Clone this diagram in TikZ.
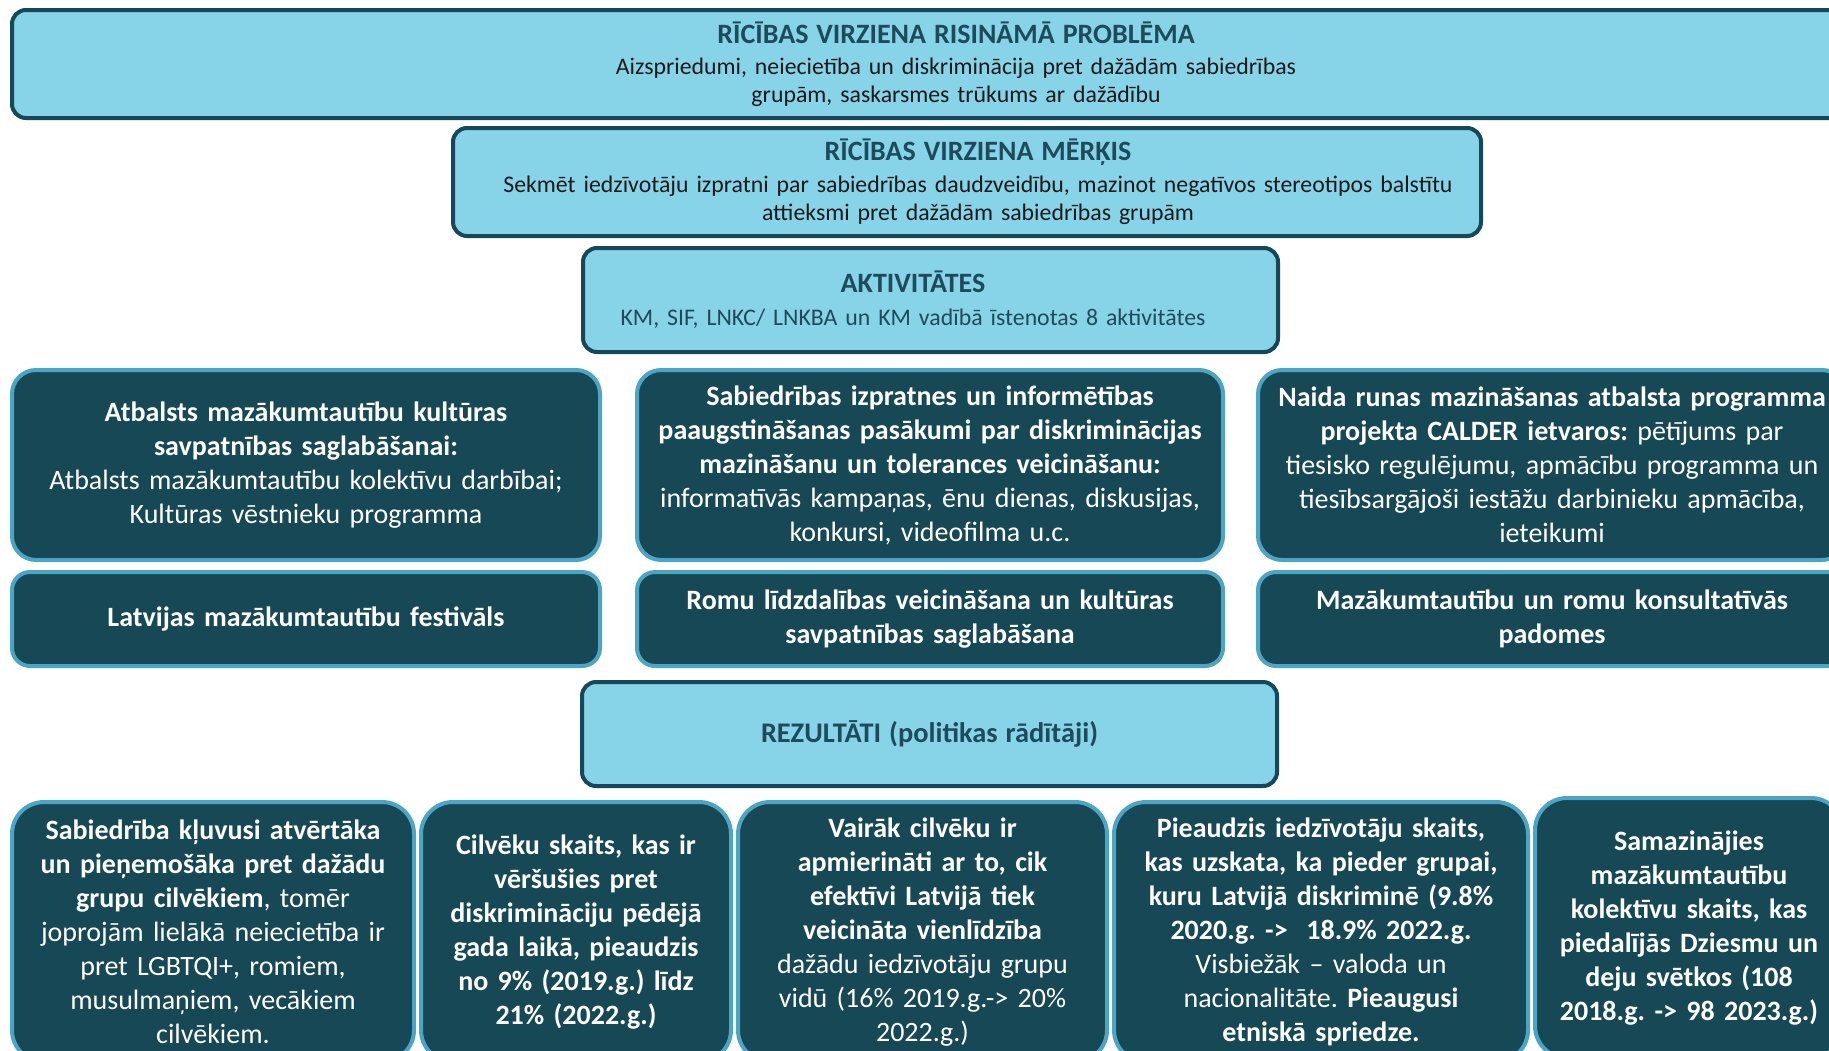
\documentclass[tikz,border=0pt]{standalone}
\usepackage{fontspec}
\setmainfont{Carlito}

\definecolor{skyfill}{HTML}{87D3E7}
\definecolor{tealline}{HTML}{17475A}
\definecolor{tealtext}{HTML}{1E4B5C}
\definecolor{bodytext}{HTML}{1A1A1A}
\definecolor{tealfill}{HTML}{174855}
\definecolor{rimblue}{HTML}{4BA6C6}

\newcommand{\headfont}{\color{tealtext}\bfseries\fontsize{14}{14}\selectfont}
\frenchspacing

\begin{document}
\begin{tikzpicture}[x=0.5pt,y=-0.5pt,
			head node/.style={rectangle,rounded corners=7pt,fill=skyfill,draw=tealline,
				line width=2pt,text=bodytext,align=center,inner sep=2pt,
				font=\fontsize{11.9}{14}\selectfont},
			act node/.style={rectangle,rounded corners=12pt,fill=tealfill,draw=rimblue,
				line width=2pt,text=white,align=center,inner sep=4pt,
				font=\fontsize{14}{17}\selectfont,minimum width=294pt,text width=284pt},
			fest node/.style={act node,rounded corners=9pt,minimum height=47pt},
			res node/.style={act node,rounded corners=16pt,minimum height=130pt}
			]
			
			\useasboundingbox (0,0) rectangle (1829,1050);
			\clip (0,0) rectangle (1829,1050);
			
			\node[head node,minimum width=944pt,minimum height=54pt,text width=600pt] (PROB) at (956,64)
				{{\headfont RĪCĪBAS VIRZIENA RISINĀMĀ PROBLĒMA}\\[1.5pt]
				Aizspriedumi, neiecietība un diskriminācija pret dažādām sabiedrības\\
				grupām, saskarsmes trūkums ar dažādību};
			\node[head node,minimum width=514pt,minimum height=54pt,text width=500pt] (GOAL) at (967,182)
				{\hspace*{11pt}{\headfont RĪCĪBAS VIRZIENA MĒRĶIS}\\[2pt]
				\hspace*{11pt}Sekmēt iedzīvotāju izpratni par sabiedrības daudzveidību, mazinot negatīvos stereotipos balstītu\\
				\hspace*{11pt}attieksmi pret dažādām sabiedrības grupām};
			\node[head node,minimum width=347.5pt,minimum height=52pt,text width=330pt] (ACT) at (930.5,300)
				{\hspace*{-17.5pt}{\headfont AKTIVITĀTES}\\[2.5pt]
				\hspace*{-17.5pt}{\color{tealtext}KM, SIF, LNKC/ LNKBA un KM vadībā īstenotas 8 aktivitātes}};
			
			% aktivitates
			\node[act node,minimum height=95pt] (SUP) at (306,465)
				{\textbf{Atbalsts mazākumtautību kultūras\\ savpatnības saglabāšanai:}\\
				Atbalsts mazākumtautību kolektīvu darbībai;\\ Kultūras vēstnieku programma};
			\node[act node,minimum height=95pt,minimum width=293pt] (AWR) [right of=SUP, node distance=312pt]
				{\textbf{Sabiedrības izpratnes un informētības\\ paaugstināšanas pasākumi par diskriminācijas\\
				mazināšanu un tolerances veicināšanu:}\\
				informatīvās kampaņas, ēnu dienas, diskusijas,\\ konkursi, videofilma u.c.};
			\node[act node,minimum height=95pt] (HATE) [right of=AWR, node distance=311pt]
				{\textbf{Naida runas mazināšanas atbalsta programma\\ projekta CALDER ietvaros:} pētījums par\\
				tiesisko regulējumu, apmācību programma un\\ tiesībsargājoši iestāžu darbinieku apmācība,\\ ieteikumi};
			\node[fest node] (FEST) [below of=SUP, node distance=77pt]
				{\textbf{Latvijas mazākumtautību festivāls}};
			\node[fest node,minimum width=293pt] (ROMA) [below of=AWR, node distance=77pt]
				{\textbf{Romu līdzdalības veicināšana un kultūras\\ savpatnības saglabāšana}};
			\node[fest node] (COUN) [below of=HATE, node distance=77pt]
				{\textbf{Mazākumtautību un romu konsultatīvās\\ padomes}};
			
			% rezultati
			\node[head node,minimum width=347.5pt,minimum height=52pt,text width=330pt] (RES) at (929.5,734)
				{{\color{tealtext}\bfseries\fontsize{14.2}{15}\selectfont REZULTĀTI (politikas rādītāji)}};
			
			\node[res node,minimum width=201pt,text width=191pt] (OPEN) at (213,932)
				{\textbf{Sabiedrība kļuvusi atvērtāka\\ un pieņemošāka pret dažādu\\ grupu cilvēkiem}, tomēr\\
				joprojām lielākā neiecietība ir\\ pret LGBTQI+, romiem,\\ musulmaņiem, vecākiem\\ cilvēkiem.};
			\node[res node,minimum width=155pt,text width=145pt] (TURN) at (576,932)
				{\textbf{Cilvēku skaits, kas ir\\ vēršušies pret\\ diskrimināciju pēdējā\\ gada laikā, pieaudzis\\
				no 9\% (2019.g.) līdz\\ 21\% (2022.g.)}};
			\node[res node,minimum width=184.5pt,text width=174pt] (EQU) at (922.5,932)
				{\textbf{Vairāk cilvēku ir\\ apmierināti ar to, cik\\ efektīvi Latvijā tiek\\ veicināta vienlīdzība}\\
				dažādu iedzīvotāju grupu\\ vidū (16\% 2019.g.-> 20\%\\ 2022.g.)};
			\node[res node,minimum width=207pt,text width=197pt] (DISC) at (1321,932)
				{\textbf{Pieaudzis iedzīvotāju skaits,\\ kas uzskata, ka pieder grupai,\\ kuru Latvijā diskriminē (9.8\%\\
				2020.g. ->\ \ 18.9\% 2022.g.}\\ Visbiežāk – valoda un\\ nacionalitāte. \textbf{Pieaugusi\\ etniskā spriedze.}};
			\node[res node,minimum width=154pt,text width=144pt] (SONG) at (1689,928)
				{\textbf{Samazinājies\\ mazākumtautību\\ kolektīvu skaits, kas\\ piedalījās Dziesmu un\\
				deju svētkos (108\\ 2018.g. -> 98 2023.g.)}};
			
		\end{tikzpicture}
\end{document}
